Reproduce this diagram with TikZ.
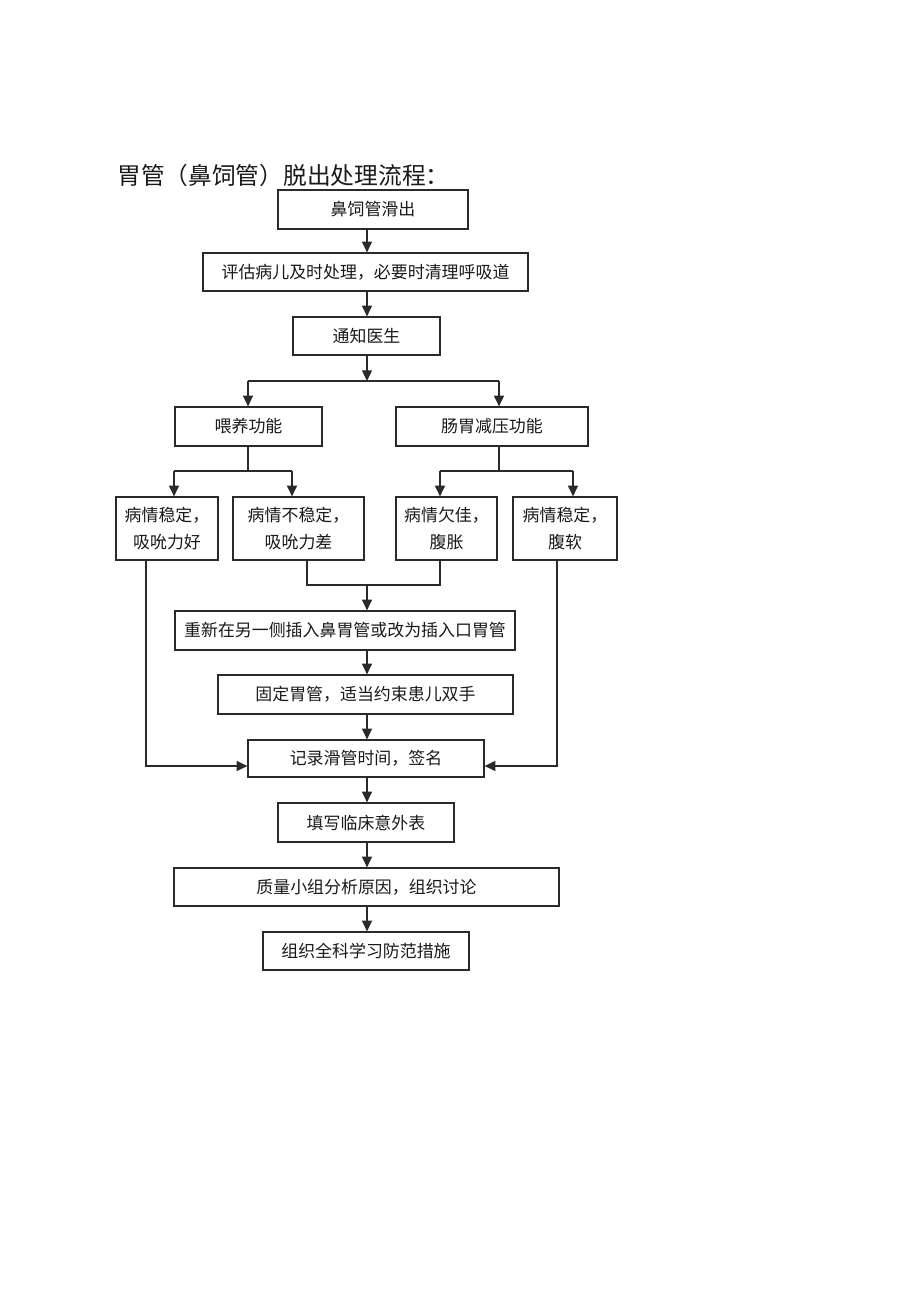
\documentclass[tikz,border=0pt]{standalone}
\usepackage{fontspec}
\setmainfont[Kerning=Off]{Noto Sans CJK SC}
\usetikzlibrary{arrows.meta}
\definecolor{ln}{HTML}{2A2A2A}
\definecolor{tx}{HTML}{1A1A1A}
\tikzset{
  box/.style={draw=ln, line width=0.95pt, fill=white, inner sep=0pt, align=center,
    text=tx, font=\fontsize{12.7}{20}\selectfont},
  sz/.style 2 args={minimum width={#1*0.75pt}, minimum height={#2*0.75pt}},
  conn/.style={draw=ln, line width=0.95pt},
  arr/.style={conn, -{Triangle[length=8pt,width=7.5pt]}},
}
\begin{document}
\begin{tikzpicture}[x=0.75pt,y=-0.75pt]
\useasboundingbox (0,0) rectangle (920,1301);
\node[anchor=west, text=tx, font=\fontsize{17.8}{20}\selectfont, inner sep=0pt] (title) at (117,175) {胃管（鼻饲管）脱出处理流程：};

\node[box, sz={190}{39}] (b1) at (373,209.5) {鼻饲管滑出};
\node[box, sz={325}{38}] (b2) at (365.5,272) {评估病儿及时处理，必要时清理呼吸道};
\node[box, sz={147}{38}] (b3) at (366.5,336) {通知医生};
\node[box, sz={147}{39}] (b4) at (248.5,426.5) {喂养功能};
\node[box, sz={192}{39}] (b5) at (492,426.5) {肠胃减压功能};
\node[box, sz={102}{63}] (b6) at (167,528.5) {病情稳定，\\吸吮力好};
\node[box, sz={131}{63}] (b7) at (298.5,528.5) {病情不稳定，\\吸吮力差};
\node[box, sz={101}{63}] (b8) at (446.5,528.5) {病情欠佳，\\腹胀};
\node[box, sz={104}{63}] (b9) at (565,528.5) {病情稳定，\\腹软};
\node[box, sz={340}{39}] (b10) at (345,630.5) {重新在另一侧插入鼻胃管或改为插入口胃管};
\node[box, sz={295}{39}] (b11) at (365.5,694.5) {固定胃管，适当约束患儿双手};
\node[box, sz={236}{37}] (b12) at (366,758.5) {记录滑管时间，签名};
\node[box, sz={176}{39}] (b13) at (366,822.5) {填写临床意外表};
\node[box, sz={385}{38}] (b14) at (366.5,887) {质量小组分析原因，组织讨论};
\node[box, sz={206}{38}] (b15) at (366,951) {组织全科学习防范措施};

% junction coordinates
\coordinate (cx) at (367,0);
\coordinate (j3) at (367,381);
\coordinate (j3l) at (248,381);
\coordinate (j3r) at (499,381);
\coordinate (j4) at (248,471);
\coordinate (j4l) at (174,471);
\coordinate (j4r) at (292,471);
\coordinate (j5) at (499,471);
\coordinate (j5l) at (440,471);
\coordinate (j5r) at (573,471);
\coordinate (m7) at (307,585);
\coordinate (m8) at (440,585);
\coordinate (mc) at (367,585);
\coordinate (l6) at (146,766);
\coordinate (r9) at (557,766);

\draw[arr] (b1.south -| cx) -- (b2.north -| cx);
\draw[arr] (b2.south -| cx) -- (b3.north -| cx);
\draw[arr] (b3.south -| cx) -- (j3);
\draw[conn] (j3l) -- (j3r);
\draw[arr] (j3l) -- (j3l |- b4.north);
\draw[arr] (j3r) -- (j3r |- b5.north);

\draw[conn] (b4.south -| j4) -- (j4);
\draw[conn] (j4l) -- (j4r);
\draw[arr] (j4l) -- (j4l |- b6.north);
\draw[arr] (j4r) -- (j4r |- b7.north);

\draw[conn] (b5.south -| j5) -- (j5);
\draw[conn] (j5l) -- (j5r);
\draw[arr] (j5l) -- (j5l |- b8.north);
\draw[arr] (j5r) -- (j5r |- b9.north);

\draw[conn] (b7.south -| m7) -- (m7) -- (m8) -- (b8.south -| m8);
\draw[arr] (mc) -- (b10.north -| mc);

\draw[arr] (b10.south -| cx) -- (b11.north -| cx);
\draw[arr] (b11.south -| cx) -- (b12.north -| cx);
\draw[arr] (b6.south -| l6) -- (l6) -- (b12.west |- l6);
\draw[arr] (b9.south -| r9) -- (r9) -- (b12.east |- r9);
\draw[arr] (b12.south -| cx) -- (b13.north -| cx);
\draw[arr] (b13.south -| cx) -- (b14.north -| cx);
\draw[arr] (b14.south -| cx) -- (b15.north -| cx);
\end{tikzpicture}
\end{document}
